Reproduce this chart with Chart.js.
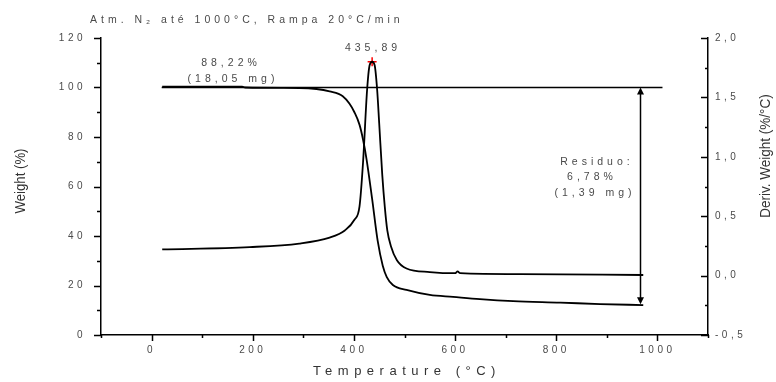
<!DOCTYPE html>
<html>
<head>
<meta charset="utf-8">
<script src="https://cdn.jsdelivr.net/npm/chart.js@4.4.1/dist/chart.umd.min.js"></script>
<style>
    html, body { margin: 0; padding: 0; background: #fff; }
    #tgaChart { display: block; }
</style>
</head>
<body>
<canvas id="tgaChart" width="776" height="382"></canvas>
<script>
// TG curve (weight %, left axis)
const tgTemp = [21, 179, 185, 292, 326, 352, 378, 391, 401, 411, 418, 425, 436, 447, 457, 465, 477, 504, 550, 596, 649, 715, 808, 887, 972];
const tgWeight = [100.3, 100.3, 100.0, 99.8, 99.4, 98.4, 96.5, 93.5, 90.0, 85.0, 79.0, 71.0, 55.0, 38.0, 28.0, 23.4, 20.2, 18.2, 16.2, 15.4, 14.5, 13.7, 13.1, 12.5, 12.1];

// DTG curve (%/°C, right axis)
const dtgTemp = [21, 194, 292, 352, 382, 401, 411, 418, 426, 431, 436, 441, 446, 450, 456, 461, 466, 473, 485, 504, 550, 600, 605, 610, 728, 972];
const dtgValue = [0.22, 0.24, 0.27, 0.32, 0.38, 0.47, 0.58, 0.95, 1.56, 1.77, 1.80, 1.77, 1.56, 1.28, 0.85, 0.58, 0.38, 0.25, 0.13, 0.06, 0.03, 0.02, 0.035, 0.02, 0.012, 0.005];

// horizontal 100 % reference line
const refTemp = [20, 1010];
const refWeight = [100, 100];

// DTG peak marker
const peakTemp = [436];
const peakValue = [1.80];

// residue arrow (temperature, from / to weight)
const arrowTemp = 966;
const arrowFrom = 100;
const arrowTo = 12.4;

const titleText = 'Atm. N\u2082 até 1000°C, Rampa 20°C/min';
const xTitle = 'Temperature (°C)';
const yTitle = 'Weight (%)';
const y1Title = 'Deriv. Weight (%/°C)';

const textColor = '#4a4a4a';
const baseFont = "'Liberation Sans', Arial, sans-serif";

function toPoints(xs, ys) {
    return xs.map((x, i) => ({ x: x, y: ys[i] }));
}

function commaNum(v, digits) {
    return v.toFixed(digits).replace('.', ',');
}

// Draw axis tick marks, titles and annotations
const annotationPlugin = {
    id: 'annotations',
    beforeDraw(chart) {
        chart.ctx.letterSpacing = '3.5px';
    },
    afterDraw(chart) {
        const ctx = chart.ctx;
        const x = chart.scales.x;
        const y = chart.scales.y;
        const y1 = chart.scales.y1;
        const area = chart.chartArea;

        ctx.save();
        ctx.letterSpacing = '0px';
        ctx.strokeStyle = '#000';
        ctx.lineWidth = 1.5;
        ctx.beginPath();
        // bottom ticks (outside)
        x.ticks.forEach(t => {
            const px = Math.round(x.getPixelForValue(t.value)) + 0.5;
            const major = t.value % 200 === 0;
            ctx.moveTo(px, area.bottom);
            ctx.lineTo(px, area.bottom + (major ? 6 : 3));
        });
        // left ticks (outside)
        y.ticks.forEach(t => {
            const py = Math.round(y.getPixelForValue(t.value)) + 0.5;
            const major = t.value % 20 === 0;
            ctx.moveTo(area.left, py);
            ctx.lineTo(area.left - (major ? 7 : 4), py);
        });
        // right ticks (inside)
        y1.ticks.forEach(t => {
            const py = Math.round(y1.getPixelForValue(t.value)) + 0.5;
            const major = Math.abs(Math.round(t.value * 2) - t.value * 2) < 1e-6;
            ctx.moveTo(area.right, py);
            ctx.lineTo(area.right - (major ? 7 : 3), py);
        });
        ctx.stroke();

        // residue arrow
        const ax = Math.round(x.getPixelForValue(arrowTemp)) + 0.5;
        const ayTop = y.getPixelForValue(arrowFrom);
        const ayBot = y.getPixelForValue(arrowTo);
        ctx.beginPath();
        ctx.moveTo(ax, ayTop + 5);
        ctx.lineTo(ax, ayBot - 5);
        ctx.stroke();
        ctx.fillStyle = '#000';
        ctx.beginPath();
        ctx.moveTo(ax, ayTop);
        ctx.lineTo(ax - 3.5, ayTop + 7);
        ctx.lineTo(ax + 3.5, ayTop + 7);
        ctx.closePath();
        ctx.fill();
        ctx.beginPath();
        ctx.moveTo(ax, ayBot);
        ctx.lineTo(ax - 3.5, ayBot - 7);
        ctx.lineTo(ax + 3.5, ayBot - 7);
        ctx.closePath();
        ctx.fill();

        // annotation texts
        ctx.fillStyle = textColor;
        ctx.textBaseline = 'middle';
        ctx.font = '10.5px ' + baseFont;
        ctx.letterSpacing = '4px';
        ctx.textAlign = 'left';
        ctx.fillText(titleText, 90, 20);
        ctx.textAlign = 'center';
        ctx.fillText('88,22%', 231, 63);
        ctx.fillText('(18,05 mg)', 233, 79);
        ctx.fillText('435,89', 373, 48);
        ctx.fillText('Residuo:', 597, 162);
        ctx.fillText('6,78%', 592, 177);
        ctx.fillText('(1,39 mg)', 595, 193);

        // x axis title
        ctx.font = '13px ' + baseFont;
        ctx.letterSpacing = '5.5px';
        ctx.fillStyle = '#333';
        ctx.fillText(xTitle, 407, 371);

        // y axis titles (condensed)
        ctx.letterSpacing = '0px';
        ctx.font = '15px ' + baseFont;
        ctx.save();
        ctx.translate(21, 181);
        ctx.rotate(-Math.PI / 2);
        ctx.scale(0.88, 1);
        ctx.fillText(yTitle, 0, 0);
        ctx.restore();

        ctx.save();
        ctx.translate(766, 156);
        ctx.rotate(-Math.PI / 2);
        ctx.scale(0.9, 1);
        ctx.fillText(y1Title, 0, 0);
        ctx.restore();

        ctx.restore();
    }
};

const lineStyle = {
    borderColor: '#000',
    borderWidth: 1.8,
    pointRadius: 0,
    fill: false,
    showLine: true,
    cubicInterpolationMode: 'monotone'
};

const tickFont = { family: baseFont, size: 10 };

new Chart(document.getElementById('tgaChart'), {
    type: 'scatter',
    data: {
        datasets: [
            { ...lineStyle, label: 'ref', data: toPoints(refTemp, refWeight), yAxisID: 'y', borderWidth: 1.5 },
            { ...lineStyle, label: 'TG', data: toPoints(tgTemp, tgWeight), yAxisID: 'y' },
            { ...lineStyle, label: 'DTG', data: toPoints(dtgTemp, dtgValue), yAxisID: 'y1' },
            {
                label: 'peak',
                data: toPoints(peakTemp, peakValue),
                yAxisID: 'y1',
                showLine: false,
                pointStyle: 'cross',
                pointRadius: 4.5,
                borderColor: '#ff0000',
                borderWidth: 1.5
            }
        ]
    },
    options: {
        responsive: false,
        animation: false,
        layout: { padding: { top: 38, left: 0, right: 0, bottom: 0 } },
        plugins: {
            legend: { display: false },
            tooltip: { enabled: false }
        },
        scales: {
            x: {
                type: 'linear',
                min: -100,
                max: 1100,
                afterFit: scale => { scale.height = 47; },
                grid: { display: false, drawTicks: false, tickLength: 0 },
                border: { display: true, color: '#000', width: 1.5 },
                ticks: {
                    stepSize: 100,
                    padding: 9,
                    maxRotation: 0,
                    autoSkip: false,
                    color: textColor,
                    font: tickFont,
                    callback: v => (v % 200 === 0 && v >= 0 && v <= 1000) ? String(v) : ''
                }
            },
            y: {
                position: 'left',
                min: 0,
                max: 120,
                afterFit: scale => { scale.width = 101; },
                grid: { display: false, drawTicks: false, tickLength: 0 },
                border: { display: true, color: '#000', width: 1.5 },
                ticks: {
                    stepSize: 10,
                    padding: 15,
                    autoSkip: false,
                    color: textColor,
                    font: tickFont,
                    callback: v => v % 20 === 0 ? String(v) : ''
                }
            },
            y1: {
                position: 'right',
                min: -0.5,
                max: 2.0,
                afterFit: scale => { scale.width = 68; },
                grid: { display: false, drawTicks: false, tickLength: 0 },
                border: { display: true, color: '#000', width: 1.5 },
                ticks: {
                    stepSize: 0.25,
                    padding: 7,
                    autoSkip: false,
                    color: textColor,
                    font: tickFont,
                    callback: v => Math.abs(Math.round(v * 2) - v * 2) < 1e-6 ? commaNum(v, 1) : ''
                }
            }
        }
    },
    plugins: [annotationPlugin]
});
</script>
</body>
</html>
